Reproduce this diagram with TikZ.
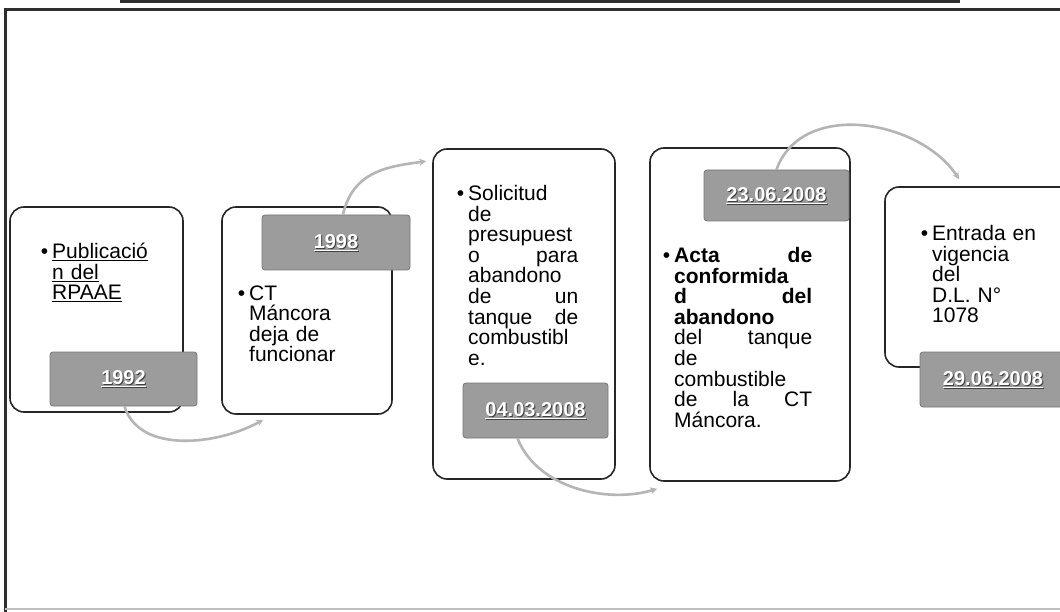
\documentclass[tikz,border=0pt]{standalone}
\usepackage{fontspec}
\setmainfont{Liberation Sans}
\usetikzlibrary{arrows.meta,calc}
\definecolor{framec}{HTML}{2E2E2E}
\definecolor{datefill}{HTML}{9C9C9C}
\definecolor{dateedge}{HTML}{777777}
\definecolor{arcc}{HTML}{B5B5B5}
\begin{document}
\begin{tikzpicture}[x=1pt,y=-1pt,
  mainbox/.style={draw=black!85, line width=1.6pt, rounded corners=14pt, fill=white, inner sep=0pt},
  datebox/.style={draw=dateedge, line width=0.8pt, fill=datefill, rounded corners=3pt, inner sep=0pt},
  datetxt/.style={text=white, font=\fontsize{20}{20}\selectfont\bfseries, inner sep=0pt},
  dateshadow/.style={text=black!75, font=\fontsize{20}{20}\selectfont\bfseries, inner sep=0pt},
  bodytxt/.style={font=\fontsize{21}{20.6}\selectfont, align=left, anchor=north west, inner sep=0pt},
  arcline/.style={draw=arcc, line width=2.6pt, -{Stealth[length=7pt,width=7pt]}},
]
\useasboundingbox (0,0) rectangle (1060,612);
\fill[white] (0,0) rectangle (1060,612);
% frame
\draw[line width=3pt, framec] (120,2) -- (960,2);
\draw[line width=3pt, framec] (5,612) -- (5,10) -- (1060,10);
\draw[line width=1.2pt, black!25] (5,609) -- (1060,609);

% main boxes
\node[mainbox, minimum width=173pt, minimum height=205pt] (b1) at (96.5,309.5) {};
\node[mainbox, minimum width=170pt, minimum height=207pt] (b2) at (307,310.5) {};
\node[mainbox, minimum width=182pt, minimum height=330pt] (b3) at (524,314) {};
\node[mainbox, minimum width=200pt, minimum height=333pt] (b4) at (750,314.5) {};
\node[mainbox, minimum width=190pt, minimum height=180pt] (b5) at (980,277) {};

% date boxes
\node[datebox, minimum width=147pt, minimum height=54pt] (d1) at (123.5,379) {};
\node[datebox, minimum width=148pt, minimum height=55pt] (d2) at (336,242.5) {};
\node[datebox, minimum width=145pt, minimum height=55pt] (d3) at (535.5,410.5) {};
\node[datebox, minimum width=145pt, minimum height=51pt] (d4) at (776.5,195.5) {};
\node[datebox, minimum width=146pt, minimum height=55pt] (d5) at (993,379.5) {};

% connectors
\draw[arcline] ([xshift=1pt]d1.south) .. controls +(15,48) and +(-45,25) .. ([xshift=42pt,yshift=-5pt]b2.south west);
\draw[arcline] ([xshift=7pt]d2.north) .. controls +(10,-45) and +(-35,5) .. ([xshift=-6pt,yshift=-13pt]b3.north west);
\draw[arcline] ([xshift=-18pt]d3.south) .. controls +(20,50) and +(-50,15) .. ([xshift=8pt,yshift=-7pt]b4.south west);
\draw[arcline] (d4.north) .. controls +(25,-70) and +(-40,-60) .. ([xshift=75pt,yshift=7pt]b5.north west);

% date texts
\foreach \n/\t in {d1/1992,d2/1998,d3/04.03.2008,d4/23.06.2008,d5/29.06.2008}{
  \node[dateshadow] (\n s) at ([xshift=1pt,yshift=-1pt]\n.center) {\underline{\t}};
  \node[datetxt] (\n t) at (\n.center) {\underline{\t}};
}

% body texts
\node[bodytxt, text width=100pt] (t1) at (52,243)
 {\rule{0pt}{15pt}\llap{•\hspace{4pt}}\underline{Publicació}\\\underline{n del}\\\underline{RPAAE}};
\node[bodytxt, text width=100pt] (t2) at (249,285)
 {\rule{0pt}{15pt}\llap{•\hspace{4pt}}CT\\Máncora\\deja de\\funcionar};
\node[bodytxt, text width=110pt] (t3) at (468,185)
 {\rule{0pt}{15pt}\llap{•\hspace{4pt}}Solicitud\\de\\presupuest\\o\hfill para\\abandono\\de\hfill un\\tanque\hfill de\\combustibl\\e.};
\node[bodytxt, text width=138pt] (t4) at (674,247)
 {\rule{0pt}{15pt}\llap{•\hspace{4pt}}\textbf{Acta}\hfill\textbf{de}\\\textbf{conformida}\\\textbf{d}\hfill\textbf{del}\\\textbf{abandono}\\del\hfill tanque\\de\\combustible\\de\hfill la\hfill CT\\Máncora.};
\node[bodytxt, text width=110pt] (t5) at (932,225)
 {\rule{0pt}{15pt}\llap{•\hspace{4pt}}Entrada en\\vigencia\\del\\D.L. N°\\1078};
\end{tikzpicture}
\end{document}
